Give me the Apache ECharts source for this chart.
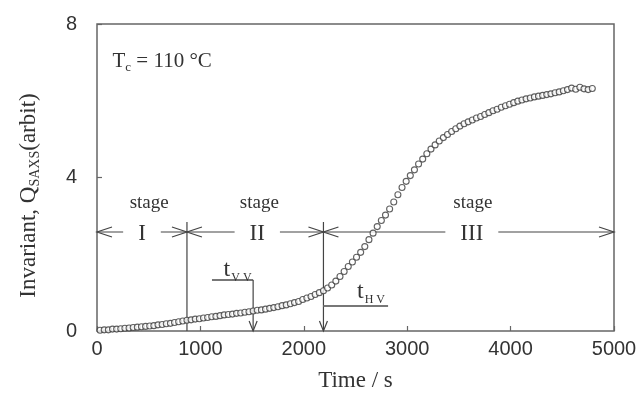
<!DOCTYPE html>
<html>
<head>
<meta charset="utf-8">
<script src="https://cdn.jsdelivr.net/npm/echarts@6/dist/echarts.min.js"></script>
<style>
  html, body { margin: 0; padding: 0; background: #fff; }
  #chart { width: 644px; height: 408px; }
</style>
</head>
<body>
<div id="chart"></div>
<script>
// SAXS invariant during isothermal crystallisation at Tc = 110 °C
const times = [
  30, 70, 110, 150, 190, 230, 270, 310, 350, 390,
  430, 470, 510, 550, 590, 630, 670, 710, 750, 790,
  830, 870, 910, 950, 990, 1030, 1070, 1110, 1150, 1190,
  1230, 1270, 1310, 1350, 1390, 1430, 1470, 1510, 1550, 1590,
  1630, 1670, 1710, 1750, 1790, 1830, 1870, 1910, 1950, 1990,
  2030, 2070, 2110, 2150, 2190, 2230, 2270, 2310, 2350, 2390,
  2430, 2470, 2510, 2550, 2590, 2630, 2670, 2710, 2750, 2790,
  2830, 2870, 2910, 2950, 2990, 3030, 3070, 3110, 3150, 3190,
  3230, 3270, 3310, 3350, 3390, 3430, 3470, 3510, 3550, 3590,
  3630, 3670, 3710, 3750, 3790, 3830, 3870, 3910, 3950, 3990,
  4030, 4070, 4110, 4150, 4190, 4230, 4270, 4310, 4350, 4390,
  4430, 4470, 4510, 4550, 4590, 4630, 4670, 4710, 4750, 4790
];
const invariant = [
  0.02, 0.03, 0.03, 0.05, 0.05, 0.06, 0.07, 0.08, 0.09, 0.10,
  0.11, 0.12, 0.13, 0.14, 0.16, 0.17, 0.19, 0.20, 0.22, 0.24,
  0.26, 0.28, 0.29, 0.31, 0.32, 0.34, 0.35, 0.37, 0.38, 0.40,
  0.42, 0.43, 0.44, 0.46, 0.47, 0.49, 0.50, 0.52, 0.54, 0.55,
  0.57, 0.59, 0.61, 0.63, 0.66, 0.68, 0.71, 0.74, 0.77, 0.82,
  0.86, 0.90, 0.95, 1.00, 1.05, 1.12, 1.20, 1.30, 1.42, 1.55,
  1.68, 1.80, 1.92, 2.05, 2.20, 2.38, 2.55, 2.72, 2.88, 3.02,
  3.18, 3.36, 3.55, 3.74, 3.90, 4.05, 4.20, 4.35, 4.48, 4.62,
  4.74, 4.85, 4.95, 5.04, 5.12, 5.20, 5.27, 5.34, 5.40, 5.45,
  5.50, 5.55, 5.59, 5.64, 5.69, 5.74, 5.78, 5.83, 5.87, 5.91,
  5.95, 5.99, 6.02, 6.05, 6.07, 6.10, 6.12, 6.14, 6.16, 6.18,
  6.21, 6.23, 6.26, 6.29, 6.33, 6.30, 6.35, 6.31, 6.29, 6.32
];

// stage boundaries (s) and the level of the stage arrows
const stageBounds = [0, 870, 2190, 5000];
const stageNames = ['I', 'II', 'III'];
const stageNameTimes = [435, 1550, 3625];
const stageWordTimes = [505, 1570, 3635];
const stageArrowLevel = 2.58;
const stageWordLevel = 3.33;
const boundaryTop = 2.84;

// characteristic times marked on the curve
const tVV = { time: 1510, level: 1.33, lineFrom: 1112, labelTime: 1360, labelLevel: 1.57 };
const tHV = { time: 2190, level: 0.65, lineTo: 2815, labelTime: 2650, labelLevel: 1.0 };

const serif = '"Liberation Serif", "DejaVu Serif", serif';
const sans = '"Liberation Sans", Arial, sans-serif';
const ink = '#444';

function openHead(tip, from, len, half) {
  const dx = tip[0] - from[0], dy = tip[1] - from[1];
  const d = Math.hypot(dx, dy) || 1;
  const ux = dx / d, uy = dy / d;
  const bx = tip[0] - ux * len, by = tip[1] - uy * len;
  const nx = -uy * half, ny = ux * half;
  return {
    type: 'polyline',
    shape: { points: [[bx + nx, by + ny], tip, [bx - nx, by - ny]] },
    style: { stroke: ink, lineWidth: 1.2, fill: null }
  };
}

function seg(a, b, w, c) {
  return {
    type: 'line',
    shape: { x1: a[0], y1: a[1], x2: b[0], y2: b[1] },
    style: { stroke: c || ink, lineWidth: w || 1.2 }
  };
}

function label(p, text, rich, font) {
  return {
    type: 'text',
    x: p[0], y: p[1],
    style: {
      text: text, rich: rich || {},
      font: font, fill: '#333',
      align: 'center', verticalAlign: 'middle'
    }
  };
}

function renderAnnotations(params, api) {
  const c = (t, v) => api.coord([t, v]);
  const kids = [];
  // stage arrows
  for (let i = 0; i < 3; i++) {
    const a = c(stageBounds[i], stageArrowLevel);
    const b = c(stageBounds[i + 1], stageArrowLevel);
    kids.push(seg(a, b));
    kids.push(openHead(a, b, 15, 5));
    kids.push(openHead(b, a, 15, 5));
  }
  // boundary lines
  kids.push(seg(c(stageBounds[1], boundaryTop), c(stageBounds[1], 0)));
  kids.push(seg(c(stageBounds[2], boundaryTop), c(stageBounds[2], 0)));
  kids.push(openHead(c(stageBounds[2], 0), c(stageBounds[2], 1), 10, 4));
  // tVV marker
  kids.push(seg(c(tVV.lineFrom, tVV.level), c(tVV.time, tVV.level), 2, '#777'));
  kids.push(seg(c(tVV.time, tVV.level), c(tVV.time, 0)));
  kids.push(openHead(c(tVV.time, 0), c(tVV.time, 1), 10, 4));
  // tHV marker
  kids.push(seg(c(tHV.time, tHV.level), c(tHV.lineTo, tHV.level), 2, '#777'));
  // stage texts
  for (let i = 0; i < 3; i++) {
    const p = c(stageNameTimes[i], stageArrowLevel);
    kids.push({
      type: 'text', x: p[0], y: p[1] + 2,
      style: {
        text: stageNames[i], font: '23px ' + serif, fill: '#333',
        align: 'center', verticalAlign: 'middle',
        backgroundColor: '#fff', padding: [0, 15]
      }
    });
    kids.push(label(c(stageWordTimes[i], stageWordLevel), 'stage', null, '19px ' + serif));
  }
  const subRich = {
    t: { font: '24px ' + serif, fill: '#333', verticalAlign: 'top', lineHeight: 26 },
    s: { font: '12px ' + serif, fill: '#333', verticalAlign: 'bottom', lineHeight: 12, padding: [0, 0, 0, 1] }
  };
  kids.push(label(c(tVV.labelTime, tVV.labelLevel), '{t|t}{s|V V}', subRich));
  kids.push(label(c(tHV.labelTime, tHV.labelLevel), '{t|t}{s|H V}', subRich));
  // temperature note
  kids.push({
    type: 'text', x: c(150, 0)[0], y: c(0, 7.0)[1],
    style: {
      text: '{m|T}{s|c}{m| = 110 °C}',
      rich: {
        m: { font: '21px ' + serif, fill: '#333', verticalAlign: 'top', lineHeight: 23 },
        s: { font: '13px ' + serif, fill: '#333', verticalAlign: 'bottom', lineHeight: 13 }
      },
      align: 'left', verticalAlign: 'middle'
    }
  });
  return { type: 'group', children: kids };
}

const chart = echarts.init(document.getElementById('chart'), null, { renderer: 'canvas' });
chart.setOption({
  animation: false,
  backgroundColor: '#fff',
  grid: {
    left: 97, right: 30, top: 24, bottom: 77,
    show: true, borderColor: '#666', borderWidth: 1.5, backgroundColor: 'transparent'
  },
  xAxis: {
    type: 'value', min: 0, max: 5000, interval: 1000,
    axisLine: { show: false },
    axisTick: { show: true, inside: true, length: 5, lineStyle: { color: '#666', width: 1.2 } },
    splitLine: { show: false },
    axisLabel: { margin: 8, color: '#333', fontSize: 20, fontFamily: sans, formatter: v => String(v) },
    name: 'Time / s', nameLocation: 'middle', nameGap: 38,
    nameTextStyle: { fontFamily: serif, fontSize: 23, color: '#333' }
  },
  yAxis: {
    type: 'value', min: 0, max: 8, interval: 4,
    axisLine: { show: false },
    axisTick: { show: true, inside: true, length: 5, lineStyle: { color: '#666', width: 1.2 } },
    splitLine: { show: false },
    axisLabel: { margin: 20, color: '#333', fontSize: 20, fontFamily: sans },
    name: '{m|Invariant, Q}{s|SAXS}{m|(arbit)}',
    nameLocation: 'middle', nameGap: 55, nameRotate: 90,
    nameTextStyle: {
      padding: [0, 36, 0, 0],
      rich: {
        m: { fontFamily: serif, fontSize: 23, color: '#333', verticalAlign: 'top', lineHeight: 25 },
        s: { fontFamily: serif, fontSize: 14, color: '#333', verticalAlign: 'bottom', lineHeight: 14 }
      }
    }
  },
  series: [
    {
      type: 'scatter',
      data: times.map((t, i) => [t, invariant[i]]),
      symbol: 'circle', symbolSize: 6,
      itemStyle: { color: '#fff', borderColor: '#3a3a3a', borderWidth: 1.1 },
      z: 3
    },
    {
      type: 'custom',
      data: [[0, 0]],
      renderItem: renderAnnotations,
      silent: true, clip: false, z: 2
    }
  ]
});
</script>
</body>
</html>
